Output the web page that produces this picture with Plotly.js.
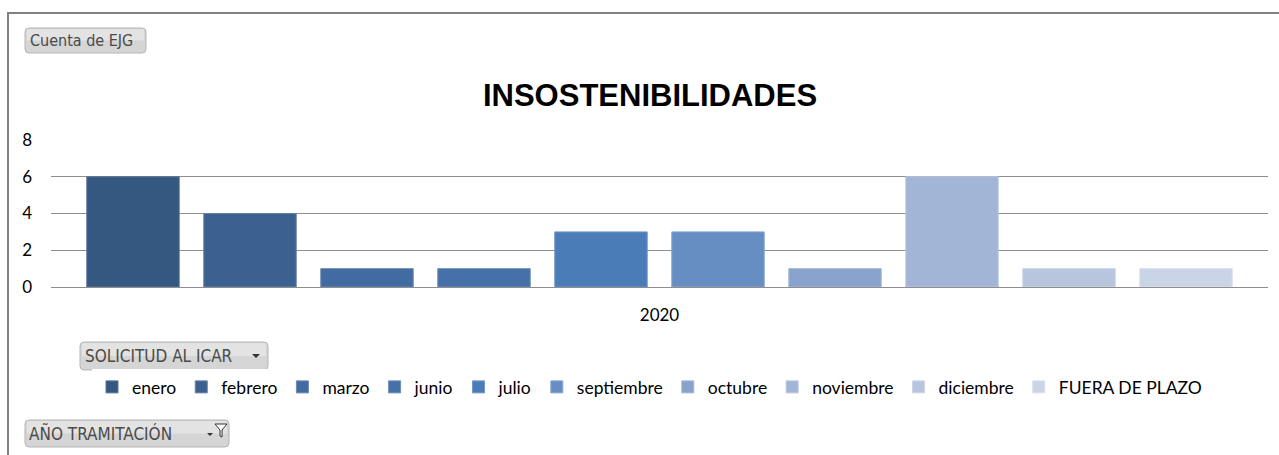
<!DOCTYPE html>
<html>
<head>
<meta charset="utf-8">
<script src="https://cdn.plot.ly/plotly-3.0.1.min.js"></script>
<style>
html,body{margin:0;padding:0;background:#fff;}
#chart{width:1279px;height:455px;}
</style>
</head>
<body>
<div id="chart"></div>
<script>
// ---- data ----
const year = '2020';
const months = ['enero','febrero','marzo','junio','julio','septiembre','octubre','noviembre','diciembre','FUERA DE PLAZO'];
const counts = [6, 4, 1, 1, 3, 3, 1, 6, 1, 1];
const yTicks = [0, 2, 4, 6, 8];
const chartTitle = 'INSOSTENIBILIDADES';

// ---- styles ----
const barColors = ['#34587F','#3C6190','#426CA1','#4671A8','#4A7DB8','#668EC3','#89A2CB','#A2B5D7','#B8C5DF','#CAD4E7'];
const edgeColors = ['#5A7699','#6681A6','#6B89B3','#6E8DB8','#7297C6','#87A6CF','#A3B7D6','#B9C8E0','#CBD5E7','#D9E0EE'];

const W = 1279, H = 455;
const M = {l: 51, r: 11, t: 140, b: 168};
const plotW = W - M.l - M.r, plotH = H - M.t - M.b;
const px = X => (X - M.l) / plotW;
const py = Y => (H - M.b - Y) / plotH;

const traces = months.map((m, i) => ({
  type: 'bar',
  name: m,
  x: [year],
  y: [counts[i]],
  marker: {color: barColors[i], line: {color: edgeColors[i], width: 1}},
  hoverinfo: 'none'
}));

function roundRect(x0, y0, x1, y1, r) {
  const X0 = px(x0), X1 = px(x1), Y0 = py(y0), Y1 = py(y1);
  const rx = r / plotW, ry = r / plotH;
  return `M${X0+rx},${Y0} L${X1-rx},${Y0} Q${X1},${Y0} ${X1},${Y0-ry} L${X1},${Y1+ry} Q${X1},${Y1} ${X1-rx},${Y1} L${X0+rx},${Y1} Q${X0},${Y1} ${X0},${Y1+ry} L${X0},${Y0-ry} Q${X0},${Y0} ${X0+rx},${Y0} Z`;
}

const boxes = [
  {x0: 25, y0: 28, x1: 146, y1: 53},
  {x0: 80, y0: 342, x1: 268, y1: 370},
  {x0: 25, y0: 420, x1: 229, y1: 447}
];

const shapes = [];
boxes.forEach(b => {
  shapes.push({type: 'path', xref: 'paper', yref: 'paper', path: roundRect(b.x0, b.y0, b.x1, b.y1, 4),
    fillcolor: '#D5D5D5', line: {color: '#B5B5B5', width: 1}, layer: 'above'});
  shapes.push({type: 'rect', xref: 'paper', yref: 'paper', x0: px(b.x0 + 2), x1: px(b.x1 - 2), y0: py(b.y0 + 1), y1: py((b.y0 + b.y1) / 2),
    fillcolor: 'rgba(255,255,255,0.35)', line: {width: 0}, layer: 'above'});
});
// dropdown arrow
shapes.push({type: 'path', xref: 'paper', yref: 'paper',
  path: `M${px(252)},${py(354)} L${px(260)},${py(354)} L${px(256)},${py(358)} Z`,
  fillcolor: '#333', line: {width: 0}, layer: 'above'});
// filter icon
shapes.push({type: 'path', xref: 'paper', yref: 'paper',
  path: `M${px(215)},${py(424)} L${px(227)},${py(424)} L${px(222)},${py(430)} L${px(222)},${py(437)} L${px(220)},${py(436)} L${px(220)},${py(430)} Z`,
  fillcolor: '#fff', line: {color: '#333', width: 1}, layer: 'above'});
shapes.push({type: 'path', xref: 'paper', yref: 'paper',
  path: `M${px(207)},${py(433)} L${px(213)},${py(433)} L${px(210)},${py(436)} Z`,
  fillcolor: '#333', line: {width: 0}, layer: 'above'});
// outer frame (top and left)
shapes.push({type: 'line', xref: 'paper', yref: 'paper', x0: px(8), x1: px(1290), y0: py(13), y1: py(13), line: {color: '#808080', width: 2}});
shapes.push({type: 'line', xref: 'paper', yref: 'paper', x0: px(8), x1: px(8), y0: py(12), y1: py(470), line: {color: '#808080', width: 2}});

const btnFamily = 'DejaVu Sans Condensed, DejaVu Sans, sans-serif';
const annotations = [
  {text: 'Cuenta de EJG', x: px(28), y: py(40.5), xanchor: 'left', yanchor: 'middle', font: {family: btnFamily, size: 16, color: '#4A4A4A'}},
  {text: 'SOLICITUD AL ICAR', x: px(83), y: py(356), xanchor: 'left', yanchor: 'middle', font: {family: btnFamily, size: 17, color: '#4A4A4A'}},
  {text: 'AÑO TRAMITACIÓN', x: px(27), y: py(433.5), xanchor: 'left', yanchor: 'middle', font: {family: btnFamily, size: 17, color: '#4A4A4A'}}
].map(a => Object.assign({xref: 'paper', yref: 'paper', showarrow: false}, a));

const layout = {
  width: W, height: H,
  margin: M,
  paper_bgcolor: '#fff', plot_bgcolor: '#fff',
  title: {text: chartTitle, font: {family: 'Liberation Sans, Arial, sans-serif', size: 31, weight: 'bold', color: '#000'},
    x: px(650), xref: 'paper', xanchor: 'center', y: 1 - 95 / H, yref: 'container', yanchor: 'middle'},
  barmode: 'group',
  bargap: 0.0386,
  bargroupgap: 0.21,
  showlegend: true,
  legend: {orientation: 'h', x: px(92), xanchor: 'left', y: py(387), yanchor: 'middle',
    font: {family: 'Lato, sans-serif', size: 17.5, color: '#000'}, itemgap: 0, traceorder: 'normal'},
  xaxis: {type: 'category', showgrid: false, showline: false, zeroline: false, ticks: '',
    tickfont: {family: 'Lato, sans-serif', size: 17, color: '#000'}, ticklabelstandoff: 16, fixedrange: true},
  yaxis: {range: [0, 8], tickvals: yTicks, showgrid: true, gridcolor: '#8E8E8E', gridwidth: 1,
    zeroline: true, zerolinecolor: '#8E8E8E', zerolinewidth: 1, showline: false, ticks: '',
    tickfont: {family: 'Lato, sans-serif', size: 17, color: '#000'}, ticklabelstandoff: 18, fixedrange: true},
  shapes: shapes,
  annotations: annotations,
  hovermode: false
};

Plotly.newPlot('chart', traces, layout, {displayModeBar: false, staticPlot: true});
</script>
</body>
</html>
